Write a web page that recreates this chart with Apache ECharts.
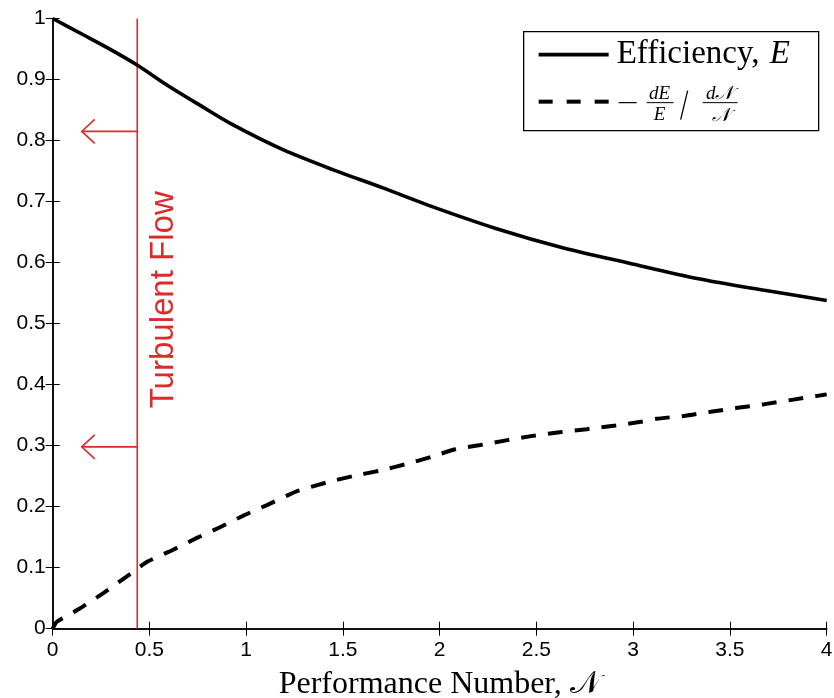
<!DOCTYPE html>
<html>
<head>
    <meta charset="utf-8">
    <title>Efficiency vs Performance Number</title>
    <script src="https://cdn.jsdelivr.net/npm/echarts@6/dist/echarts.min.js"></script>
    <style>
        html, body { margin: 0; padding: 0; background: #fff; }
    </style>
</head>
<body>
    <div id="main" style="width: 834px;height:698px;"></div>
    <script type="text/javascript">
        // tick labels
        var xTickLabels = ['0', '0.5', '1', '1.5', '2', '2.5', '3', '3.5', '4'];
        var yTickLabels = ['0', '0.1', '0.2', '0.3', '0.4', '0.5', '0.6', '0.7', '0.8', '0.9', '1'];

        // Efficiency, E
        var effN = [0, 0.16, 0.3, 0.44, 0.59, 0.76, 0.93, 1.19, 1.45, 1.71, 1.95, 2.29, 2.64, 2.98, 3.33, 3.67, 4.0];
        var effE = [1.0, 0.973, 0.949, 0.923, 0.891, 0.858, 0.826, 0.785, 0.752, 0.722, 0.693, 0.656, 0.624, 0.599, 0.574, 0.555, 0.538];

        // -(dE/E)/(dN/N)
        var elasN = [0, 0.02, 0.14, 0.26, 0.38, 0.49, 0.62, 0.74, 0.87, 0.99, 1.11, 1.26, 1.42, 1.55, 1.69, 1.83, 1.96, 2.08, 2.21, 2.35, 2.48, 2.62, 2.76, 2.91, 3.04, 3.12, 3.27, 3.41, 3.54, 3.68, 3.82, 3.96, 4.0];
        var elasV = [0, 0.011, 0.033, 0.058, 0.085, 0.11, 0.129, 0.148, 0.167, 0.186, 0.203, 0.225, 0.24, 0.25, 0.259, 0.27, 0.282, 0.294, 0.301, 0.309, 0.316, 0.322, 0.327, 0.333, 0.339, 0.344, 0.349, 0.356, 0.362, 0.368, 0.375, 0.382, 0.384];

        // turbulent flow marker
        var turbulentN = 0.437;
        var arrowLevels = [0.815, 0.298];
        var arrowTipN = 0.15;
        var labelPos = [0.575, 0.539];

        var red = '#dd2a2a';
        var serif = '"Liberation Serif", "DejaVu Serif", serif';
        var sans = '"Liberation Sans", Arial, sans-serif';

        function zip(a, b) {
            return a.map(function (v, i) { return [v, b[i]]; });
        }

        var myChart = echarts.init(document.getElementById('main'));

        var axisLine = { show: true, lineStyle: { color: '#000', width: 1.5 } };
        var axisTick = { show: true, inside: true, length: 7, lineStyle: { color: '#000', width: 1 } };

        var option = {
            backgroundColor: '#fff',
            animation: false,
            grid: { left: 52.7, right: 7.3, top: 18.5, bottom: 69.3, containLabel: false, outerBoundsMode: 'none' },
            xAxis: [{
                type: 'value', min: 0, max: 4, interval: 0.5,
                axisLine: axisLine, axisTick: axisTick, splitLine: { show: false },
                axisLabel: {
                    color: '#000', fontSize: 21, fontFamily: sans, margin: 11,
                    formatter: function (v) { return xTickLabels[Math.round(v / 0.5)]; }
                },
                name: 'Performance Number, \uD835\uDCA9',
                nameLocation: 'middle', nameGap: 40,
                nameTextStyle: { color: '#000', fontSize: 32, fontFamily: serif }
            }, {
                type: 'value', min: 0, max: 4, interval: 0.5, position: 'top',
                axisLine: axisLine, axisTick: axisTick, axisLabel: { show: false }, splitLine: { show: false }
            }],
            yAxis: [{
                type: 'value', min: 0, max: 1, interval: 0.1,
                axisLine: axisLine, axisTick: axisTick, splitLine: { show: false },
                axisLabel: {
                    color: '#000', fontSize: 21, fontFamily: sans, margin: 7,
                    formatter: function (v) { return yTickLabels[Math.round(v / 0.1)]; }
                }
            }, {
                type: 'value', min: 0, max: 1, interval: 0.1, position: 'right',
                axisLine: axisLine, axisTick: axisTick, axisLabel: { show: false }, splitLine: { show: false }
            }],
            series: [{
                name: 'Efficiency',
                type: 'line',
                data: zip(effN, effE),
                smooth: 0.3,
                showSymbol: false,
                lineStyle: { color: '#000', width: 3.6 },
                z: 3
            }, {
                name: 'Elasticity',
                type: 'line',
                data: zip(elasN, elasV),
                smooth: 0.15,
                showSymbol: false,
                lineStyle: { color: '#000', width: 4, type: [15, 12] },
                z: 3
            }, {
                name: 'Turbulent',
                type: 'custom',
                silent: true,
                clip: false,
                data: [[turbulentN, 0]],
                renderItem: function (params, api) {
                    var top = api.coord([turbulentN, 1]);
                    var bottom = api.coord([turbulentN, 0]);
                    var children = [{
                        type: 'line',
                        shape: { x1: top[0], y1: top[1], x2: bottom[0], y2: bottom[1] },
                        style: { stroke: red, lineWidth: 1.6 }
                    }];
                    arrowLevels.forEach(function (lvl) {
                        var from = api.coord([turbulentN, lvl]);
                        var tip = api.coord([arrowTipN, lvl]);
                        children.push({
                            type: 'line',
                            shape: { x1: from[0], y1: from[1], x2: tip[0], y2: tip[1] },
                            style: { stroke: red, lineWidth: 1.6 }
                        });
                        children.push({
                            type: 'polyline',
                            shape: { points: [[tip[0] + 13, tip[1] - 12], tip, [tip[0] + 13, tip[1] + 12]] },
                            style: { stroke: red, lineWidth: 1.6, fill: null }
                        });
                    });
                    var lp = api.coord(labelPos);
                    children.push({
                        type: 'text',
                        x: lp[0], y: lp[1],
                        rotation: Math.PI / 2,
                        style: {
                            text: 'Turbulent Flow', fill: red,
                            font: '33px ' + sans,
                            align: 'center', verticalAlign: 'middle'
                        }
                    });
                    return { type: 'group', children: children };
                },
                z: 2
            }],
            graphic: [{
                type: 'group',
                left: 523, top: 31,
                children: [
                    { type: 'rect', shape: { x: 0, y: 0, width: 295, height: 99 }, style: { fill: '#fff', stroke: '#000', lineWidth: 1.3 } },
                    { type: 'line', shape: { x1: 15, y1: 23, x2: 85, y2: 23 }, style: { stroke: '#000', lineWidth: 3.6 } },
                    { type: 'text', x: 93, y: 23, style: { text: 'Efficiency, ', font: '33px ' + serif, fill: '#000', verticalAlign: 'middle' } },
                    { type: 'text', x: 246, y: 23, style: { text: 'E', font: 'italic 33px ' + serif, fill: '#000', verticalAlign: 'middle' } },
                    { type: 'line', shape: { x1: 15, y1: 70, x2: 85, y2: 70 }, style: { stroke: '#000', lineWidth: 4, lineDash: [14, 14] } },
                    { type: 'line', shape: { x1: 95, y1: 71, x2: 113, y2: 71 }, style: { stroke: '#000', lineWidth: 1.2 } },
                    { type: 'text', x: 136, y: 62, style: { text: 'dE', font: 'italic 19px ' + serif, fill: '#000', align: 'center', verticalAlign: 'middle' } },
                    { type: 'line', shape: { x1: 123, y1: 71, x2: 150, y2: 71 }, style: { stroke: '#000', lineWidth: 1 } },
                    { type: 'text', x: 136, y: 83, style: { text: 'E', font: 'italic 19px ' + serif, fill: '#000', align: 'center', verticalAlign: 'middle' } },
                    { type: 'line', shape: { x1: 164, y1: 59, x2: 157, y2: 88 }, style: { stroke: '#000', lineWidth: 1.3 } },
                    { type: 'text', x: 196, y: 62, style: { text: 'd\uD835\uDCA9', font: 'italic 19px ' + serif, fill: '#000', align: 'center', verticalAlign: 'middle' } },
                    { type: 'line', shape: { x1: 179, y1: 71, x2: 214, y2: 71 }, style: { stroke: '#000', lineWidth: 1 } },
                    { type: 'text', x: 197, y: 84, style: { text: '\uD835\uDCA9', font: 'italic 19px ' + serif, fill: '#000', align: 'center', verticalAlign: 'middle' } }
                ]
            }]
        };

        myChart.setOption(option);
    </script>
</body>
</html>
